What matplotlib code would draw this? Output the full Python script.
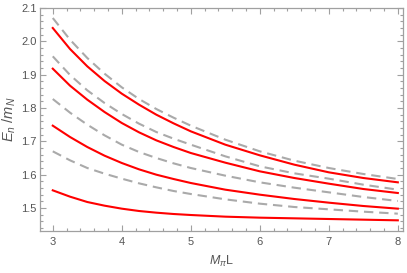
"""energy levels vs box size (Mathematica-style frame plot)."""

import matplotlib
import matplotlib.pyplot as plt
from matplotlib.ticker import MultipleLocator

matplotlib.use("Agg")

plt.rcParams["font.family"] = ["Liberation Sans", "DejaVu Sans"]
plt.rcParams["mathtext.fontset"] = "custom"
plt.rcParams["mathtext.rm"] = "Liberation Sans"
plt.rcParams["mathtext.it"] = "Liberation Sans:italic"

# M_pi L sample points
mpil = [3.0, 3.25, 3.5, 3.75, 4.0, 4.25, 4.5, 4.75, 5.0, 5.5, 6.0, 6.5, 7.0, 7.5, 8.0]

# solid red levels (E_n / m_N)
red_1 = [2.040, 1.977, 1.925, 1.881, 1.843, 1.810, 1.780, 1.754, 1.730,
         1.690, 1.658, 1.630, 1.607, 1.590, 1.577]
red_2 = [1.918, 1.867, 1.825, 1.788, 1.755, 1.727, 1.703, 1.683, 1.665,
         1.636, 1.610, 1.590, 1.573, 1.557, 1.545]
red_3 = [1.747, 1.713, 1.683, 1.657, 1.635, 1.616, 1.600, 1.587, 1.575,
         1.555, 1.540, 1.527, 1.516, 1.506, 1.498]
red_4 = [1.553, 1.534, 1.518, 1.507, 1.498, 1.491, 1.486, 1.482, 1.479,
         1.474, 1.471, 1.469, 1.467, 1.465, 1.463]

# dashed gray levels
gray_1 = [2.070, 2.005, 1.950, 1.903, 1.862, 1.827, 1.797, 1.771, 1.747,
          1.705, 1.670, 1.642, 1.620, 1.602, 1.587]
gray_2 = [1.955, 1.899, 1.853, 1.815, 1.782, 1.753, 1.728, 1.708, 1.690,
          1.655, 1.625, 1.604, 1.588, 1.570, 1.555]
gray_3 = [1.827, 1.786, 1.750, 1.718, 1.690, 1.668, 1.650, 1.634, 1.620,
          1.597, 1.577, 1.561, 1.547, 1.533, 1.521]
gray_4 = [1.670, 1.643, 1.620, 1.603, 1.588, 1.574, 1.562, 1.551, 1.542,
          1.526, 1.513, 1.503, 1.496, 1.489, 1.483]

FRAME = "#a0a0a0"
TEXT = "#555555"

fig = plt.figure(figsize=(4.07, 2.73), dpi=100)
ax = fig.add_axes([40 / 407, 1 - 231 / 273, 363 / 407, 223 / 273])

for ys in (gray_1, gray_2, gray_3, gray_4):
    ax.plot(mpil, ys, color="#aaaaaa", linewidth=1.5, linestyle=(0, (4.5, 2.8)))
for ys in (red_1, red_2, red_3, red_4):
    ax.plot(mpil, ys, color="#ff0000", linewidth=1.5)

ax.set_xlim(2.815, 8.075)
ax.set_ylim(1.431, 2.1)

ax.xaxis.set_major_locator(MultipleLocator(1))
ax.xaxis.set_minor_locator(MultipleLocator(0.2))
ax.yaxis.set_major_locator(MultipleLocator(0.1))
ax.yaxis.set_minor_locator(MultipleLocator(0.02))

ax.tick_params(which="both", direction="in", top=True, right=True,
               color=FRAME, labelcolor=TEXT, labelsize=8, width=0.8)
ax.tick_params(which="major", length=4)
ax.tick_params(which="minor", length=2)
ax.tick_params(axis="x", which="major", pad=4)
ax.tick_params(axis="y", which="major", pad=2.5)

for sp in ax.spines.values():
    sp.set_color(FRAME)
    sp.set_linewidth(0.9)

ax.set_xlabel(r"$M_\pi$L", fontsize=9, color=TEXT, labelpad=5)
ax.set_ylabel(r"$E_n\ /m_N$", fontsize=10.5, color=TEXT, labelpad=2)

fig.savefig("out.png", dpi=100)
plt.close(fig)
